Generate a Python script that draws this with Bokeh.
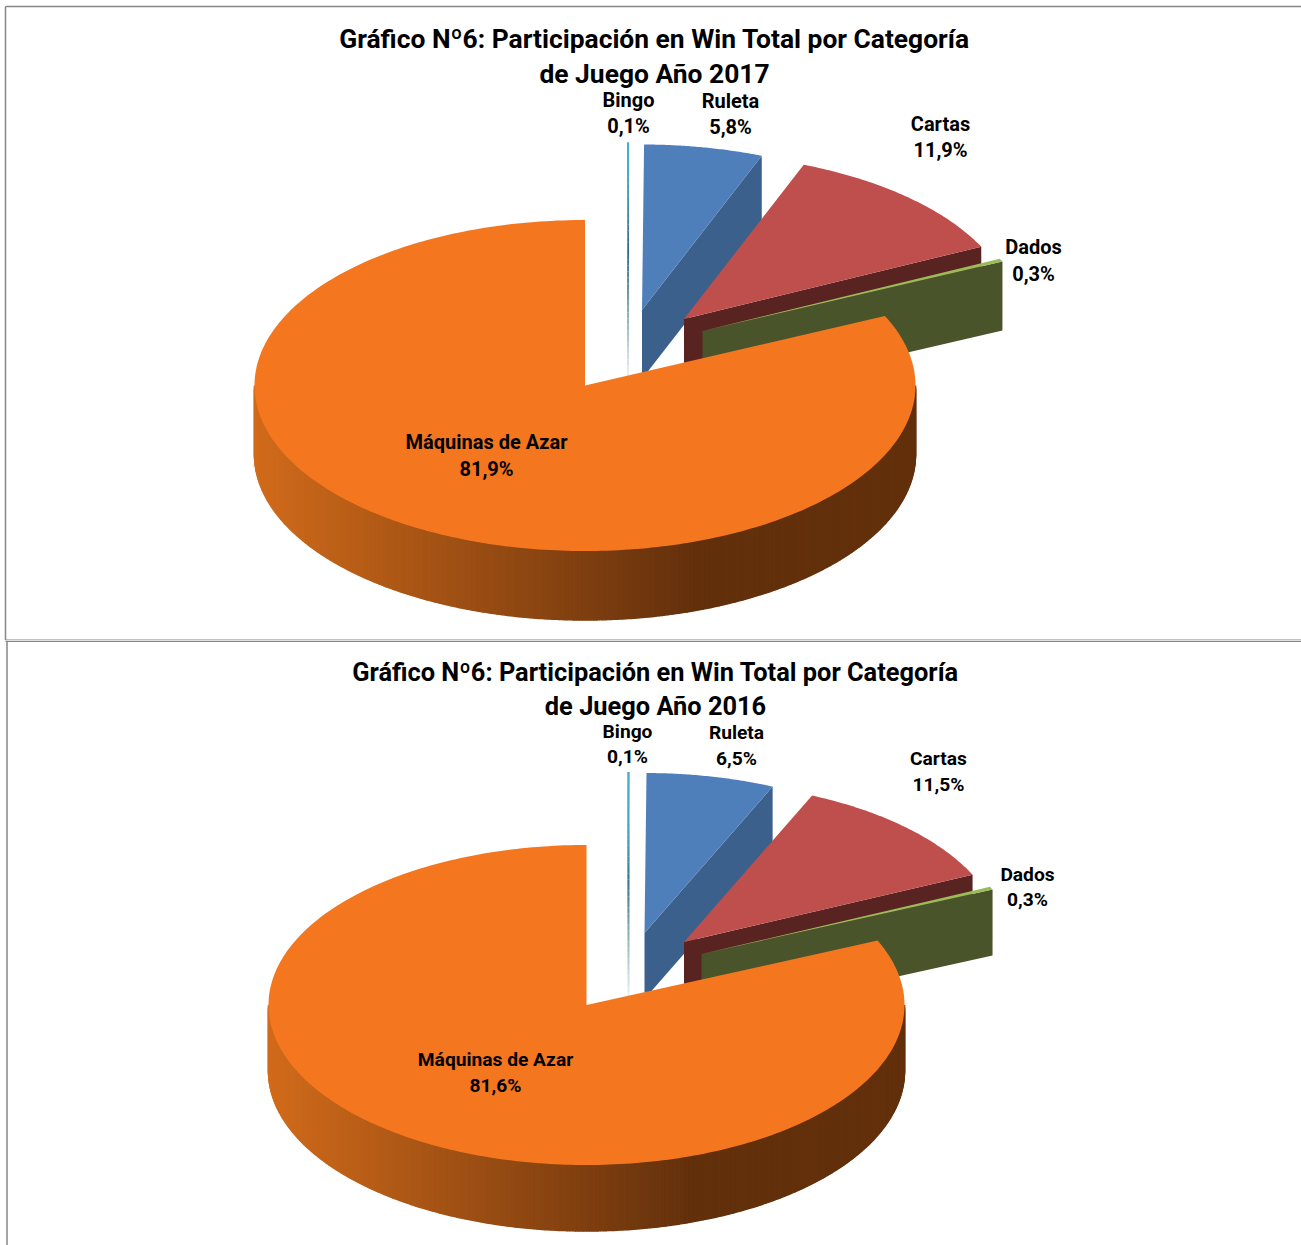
import math
from bokeh.embed import file_html
from bokeh.layouts import column
from bokeh.models import Range1d
from bokeh.plotting import figure
from bokeh.resources import INLINE
from bokeh.core.properties import value

# ---- data -----------------------------------------------------------
categories = ["Bingo", "Ruleta", "Cartas", "Dados", "Máquinas de Azar"]
values_2017 = [0.1, 5.8, 11.9, 0.3, 81.9]
values_2016 = [0.1, 6.5, 11.5, 0.3, 81.6]
title_2017 = ["Gráfico Nº6: Participación en Win Total por Categoría", "de Juego Año 2017"]
title_2016 = ["Gráfico Nº6: Participación en Win Total por Categoría", "de Juego Año 2016"]

# ---- style ----------------------------------------------------------
FONT = "Roboto"
TOP = ["#4BACC6", "#4F7FBA", "#BE4F4D", "#9BBB59", "#F4771F"]
WALL = ["#2F6D7E", "#3B608C", "#592322", "#49542A", "#63300C"]
FRAME = "#868686"

# ---- layout ---------------------------------------------------------
L2017 = dict(
    cx=584.5, cy=385, rx=330.5, ry=165.5, depth=69, title_size="26.4px", label_size="20px",
    apex=[(626.5, 307.5), (641.5, 309.5), (683.5, 318.5), (702, 330.5)],
    label_pos=[(628, 99, 125), (730, 100, 126), (940, 123, 149), (1033, 246, 273), (486, 441, 468)],
    title_pos=[(654, 38), (654, 73)],
)
L2016 = dict(
    cx=586, cy=1004.5, rx=318, ry=160, depth=66, title_size="25.4px", label_size="19.2px",
    apex=[(627, 931.5), (644, 932.5), (683.5, 941.5), (701, 953.5)],
    label_pos=[(627, 731, 756), (736, 732, 758), (938, 758, 784), (1027, 874, 899), (495, 1059, 1085)],
    title_pos=[(655, 671), (655, 705)],
)


def lerp_hex(a, b, t):
    ca = [int(a[i:i + 2], 16) for i in (1, 3, 5)]
    cb = [int(b[i:i + 2], 16) for i in (1, 3, 5)]
    return "#%02x%02x%02x" % tuple(round(x + (y - x) * t) for x, y in zip(ca, cb))


def arc(ax, ay, rx, ry, a0, a1, n):
    th = [math.radians(a0 + (a1 - a0) * i / n) for i in range(n + 1)]
    return [ax + rx * math.sin(t) for t in th], [ay - ry * math.cos(t) for t in th]


def draw_pie(p, vals, lay, title):
    rx, ry, d = lay["rx"], lay["ry"], lay["depth"]
    total = sum(vals)
    acc = [0.0]
    for v in vals:
        acc.append(acc[-1] + v / total * 360)

    # exploded slices, back to front
    for i in range(4):
        ax, ay = lay["apex"][i]
        a0, a1 = acc[i], acc[i + 1]
        xs, ys = arc(ax, ay, rx, ry, a0, a1, 60)
        ex, ey = xs[-1], ys[-1]
        if i == 0:
            # hair-thin slice: its wall fades out towards the foot
            y0, y1 = ey, ay + d
            n = 40
            px, py, pc = [], [], []
            for k in range(n):
                t = k / n
                c = (lerp_hex("#57B5CC", WALL[0], t / 0.45) if t < 0.45
                     else lerp_hex(WALL[0], "#F2F5F6", (t - 0.45) / 0.55))
                b0, b1 = y0 + (y1 - y0) * k / n, y0 + (y1 - y0) * (k + 1) / n
                px.append([ax, ex, ex, ax])
                py.append([b0, b0, b1, b1])
                pc.append(c)
            p.patches(px, py, fill_color=pc, line_color=None)
        else:
            p.patch([ax, ex, ex, ax], [ay, ey, ey + d, ay + d], fill_color=WALL[i], line_color=None)
        p.patch([ax] + xs, [ay] + ys, fill_color=TOP[i], line_color=None)

    # main slice: rim with a horizontal shading, then its top
    ax, ay = lay["cx"], lay["cy"]
    cut = 360 - vals[4] / total * 360
    vis0, vis1 = 90.0, 270.0
    n = 360
    xs, ys = arc(ax, ay, rx, ry, vis0, vis1, n)
    px, py, pc = [], [], []
    for k in range(n):
        xa, xb, ya, yb = xs[k], xs[k + 1], ys[k], ys[k + 1]
        u = ((xa + xb) / 2 - (ax - rx)) / (2 * rx)
        c = lerp_hex("#D16B1B", WALL[4], min(1.0, u / 0.667))
        px.append([xa, xb, xb, xa])
        py.append([ya, yb, yb + d, ya + d])
        pc.append(c)
    p.patches(px, py, fill_color=pc, line_color=pc, line_width=1.5)
    xs, ys = arc(ax, ay, rx, ry, cut, 360, 300)
    p.patch([ax] + xs, [ay] + ys, fill_color=TOP[4], line_color=None)

    # labels
    for i, (lx, y1, y2) in enumerate(lay["label_pos"]):
        pct = f"{vals[i]:.1f}%".replace(".", ",")
        p.text([lx, lx], [y1, y2], text=[categories[i], pct], text_font=value(FONT),
               text_font_style="bold", text_font_size=lay["label_size"], text_color="#000000",
               text_align="center", text_baseline="middle")
    for (tx, ty), line in zip(lay["title_pos"], title):
        p.text([tx], [ty], text=[line], text_font=value(FONT), text_font_style="bold",
               text_font_size=lay["title_size"], text_color="#000000",
               text_align="center", text_baseline="middle")


def panel(w, h, y0, y1):
    p = figure(width=w, height=h, x_range=Range1d(0, w), y_range=Range1d(y1, y0),
               output_backend="svg", toolbar_location=None, min_border=0,
               background_fill_color="#ffffff", border_fill_color="#ffffff")
    p.axis.visible = False
    p.grid.visible = False
    p.outline_line_color = None
    return p


W = 1301
p1 = panel(W, 640, 0, 640)
p1.segment([5, 5], [6, 6], [1301, 5], [6, 640], line_color=FRAME, line_width=1.5)
p1.segment([5], [639.7], [1301], [639.7], line_color=FRAME, line_width=1.5)
draw_pie(p1, values_2017, L2017, title_2017)

p2 = panel(W, 605, 640, 1245)
p2.segment([6.5], [640], [6.5], [1245], line_color=FRAME, line_width=1.5)
p2.segment([5], [640.7], [1301], [640.7], line_color=FRAME, line_width=1.5)
draw_pie(p2, values_2016, L2016, title_2016)

page = column(p1, p2, spacing=0)
open("out.html", "w").write(file_html(page, INLINE))
